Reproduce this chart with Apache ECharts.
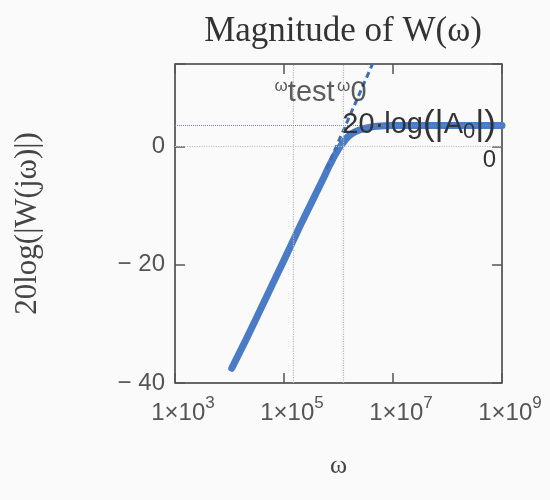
<!DOCTYPE html>
<html>
<head>
<meta charset="utf-8">
<script src="https://cdn.jsdelivr.net/npm/echarts@6/dist/echarts.min.js"></script>
<style>
html,body{margin:0;padding:0;background:#fafafa;}
#chart{width:550px;height:500px;}
</style>
</head>
<body>
<div id="chart"></div>
<script>
// ---- data ----
const omega   = [1.1e4, 2e4, 5e4, 1e5, 2e5, 5e5, 7e5, 1e6, 1.2e6, 1.5e6, 2e6, 3e6, 5e6, 1e7, 1e8, 1e9];
const magDb   = [-37.5, -32.7, -25.0, -19.2, -13.3, -5.8, -3.0, -0.4, 0.6, 1.7, 2.5, 3.1, 3.45, 3.6, 3.6, 3.6];
const asymOmega = [6e5, 4.2e6];
const asymDb    = [-3.8, 14];
const omegaTest = 1.5e5;
const omega0    = 1.2e6;
const A0dB      = 3.6;
const zeroDb    = 0;
const annotY    = 9.2;
const xTickExponents = [3, 5, 7, 9];
const yTicks = [-40, -20, 0];

const SANS = 'Liberation Sans, Arial, sans-serif';
const SERIF = 'Liberation Serif, Times New Roman, serif';

const chart = echarts.init(document.getElementById('chart'));

const xLabelFormatter = v => {
  const e = Math.round(Math.log10(v));
  if (xTickExponents.indexOf(e) < 0) return '';
  return '{b|1×10}{s|' + e + '}';
};
const yLabelFormatter = v => {
  if (yTicks.indexOf(v) < 0) return '';
  return v < 0 ? '− ' + Math.abs(v) : String(v);
};

const commonX = {
  type: 'log', logBase: 10, min: 1e3, max: 1e9, interval: 2,
  splitLine: {show: false}, minorTick: {show: false}
};
const commonY = {
  type: 'value', min: -40, max: 14, interval: 20,
  splitLine: {show: false}
};
const axisLineStyle = {show: true, onZero: false, lineStyle: {color: '#555', width: 1.5}};
const tickStyle = {show: true, inside: true, length: 10, lineStyle: {color: '#555', width: 1.5}};

chart.setOption({
  backgroundColor: '#fafafa',
  animation: false,
  title: {
    text: 'Magnitude of W(ω)',
    left: 338, textAlign: 'center', top: 9,
    textStyle: {fontFamily: SERIF, fontSize: 35, fontWeight: 'normal', color: '#333'}
  },
  grid: {left: 175, right: 48, top: 64, bottom: 117, show: true, borderColor: '#555', borderWidth: 1, backgroundColor: 'transparent'},
  xAxis: [
    Object.assign({}, commonX, {
      position: 'bottom',
      name: 'ω', nameLocation: 'middle', nameGap: 70,
      nameTextStyle: {fontFamily: SERIF, fontSize: 26, color: '#444'},
      axisLine: axisLineStyle,
      axisTick: tickStyle,
      axisLabel: {
        formatter: xLabelFormatter, margin: 12, padding: [0, 0, 0, 16],
        rich: {
          b: {fontFamily: SANS, fontSize: 24, color: '#555', lineHeight: 30, verticalAlign: 'bottom'},
          s: {fontFamily: SANS, fontSize: 17, color: '#555', lineHeight: 30, verticalAlign: 'top'}
        }
      }
    }),
    Object.assign({}, commonX, {
      position: 'top',
      axisLine: axisLineStyle,
      axisTick: tickStyle,
      axisLabel: {show: false}
    })
  ],
  yAxis: [
    Object.assign({}, commonY, {
      position: 'left',
      name: '20log(|W(jω)|)', nameLocation: 'middle', nameGap: 132, nameRotate: 90,
      nameTextStyle: {fontFamily: SERIF, fontSize: 31, color: '#444'},
      axisLine: axisLineStyle,
      axisTick: tickStyle,
      axisLabel: {formatter: yLabelFormatter, margin: 10, fontFamily: SANS, fontSize: 24, color: '#555'}
    }),
    Object.assign({}, commonY, {
      position: 'right',
      axisLine: axisLineStyle,
      axisTick: tickStyle,
      axisLabel: {show: false}
    })
  ],
  series: [
    {
      name: 'markers', type: 'line', data: [], silent: true,
      markLine: {
        symbol: 'none', silent: true, animation: false,
        data: [
          {xAxis: omegaTest, lineStyle: {color: '#b8b8b8', type: 'dotted', width: 1.2}, label: {show: false}},
          {xAxis: omega0, lineStyle: {color: '#b8b8b8', type: 'dotted', width: 1.2}, label: {show: false}},
          {yAxis: zeroDb, lineStyle: {color: '#c4c4c4', type: 'dotted', width: 1.2},
            label: {show: true, position: 'insideEndBottom', formatter: '0', distance: [6, 2],
              fontFamily: SANS, fontSize: 24, color: '#333'}}
        ]
      },
      z: 1
    },
    {
      name: 'W', type: 'line', data: omega.map((w, i) => [w, magDb[i]]),
      showSymbol: false, symbol: 'none', smooth: 0.25,
      lineStyle: {color: '#4a7bc6', width: 7, cap: 'round', join: 'round'},
      z: 2
    },
    {
      name: 'A0', type: 'line', data: [], silent: true,
      markLine: {
        symbol: 'none', silent: true, animation: false,
        data: [
          {yAxis: A0dB, lineStyle: {color: '#7a8aa5', type: 'dotted', width: 1},
            label: {show: true, position: 'insideEnd', distance: [6, 0],
              formatter: '{t|20·log}{p|(|}{t|A}{sub|0}{p||)}',
              rich: {
                t: {fontFamily: SANS, fontSize: 29, color: '#333'},
                p: {fontFamily: SANS, fontSize: 35, color: '#333'},
                sub: {fontFamily: SANS, fontSize: 22, color: '#333', verticalAlign: 'bottom', padding: [10, 0, 0, 0]}
              }}}
        ]
      },
      z: 4
    },
    {
      name: 'asymptote', type: 'line', data: asymOmega.map((w, i) => [w, asymDb[i]]),
      showSymbol: false, symbol: 'none',
      lineStyle: {color: '#3d6cb8', width: 3, type: [6, 4]},
      z: 3
    },
    {
      name: 'annot', type: 'scatter', symbolSize: 0, silent: true,
      data: [
        {value: [omegaTest, annotY], label: {show: true, position: 'inside', offset: [11, 0],
          formatter: '{w|ω}{t|test}'}},
        {value: [omega0, annotY], label: {show: true, position: 'inside', offset: [9, 0],
          formatter: '{w|ω}{t|0}'}}
      ],
      label: {
        rich: {
          w: {fontFamily: SANS, fontSize: 17, color: '#333', verticalAlign: 'top', lineHeight: 30},
          t: {fontFamily: SANS, fontSize: 29, color: '#333', verticalAlign: 'bottom', lineHeight: 30}
        }
      },
      z: 5
    }
  ]
});
</script>
</body>
</html>
